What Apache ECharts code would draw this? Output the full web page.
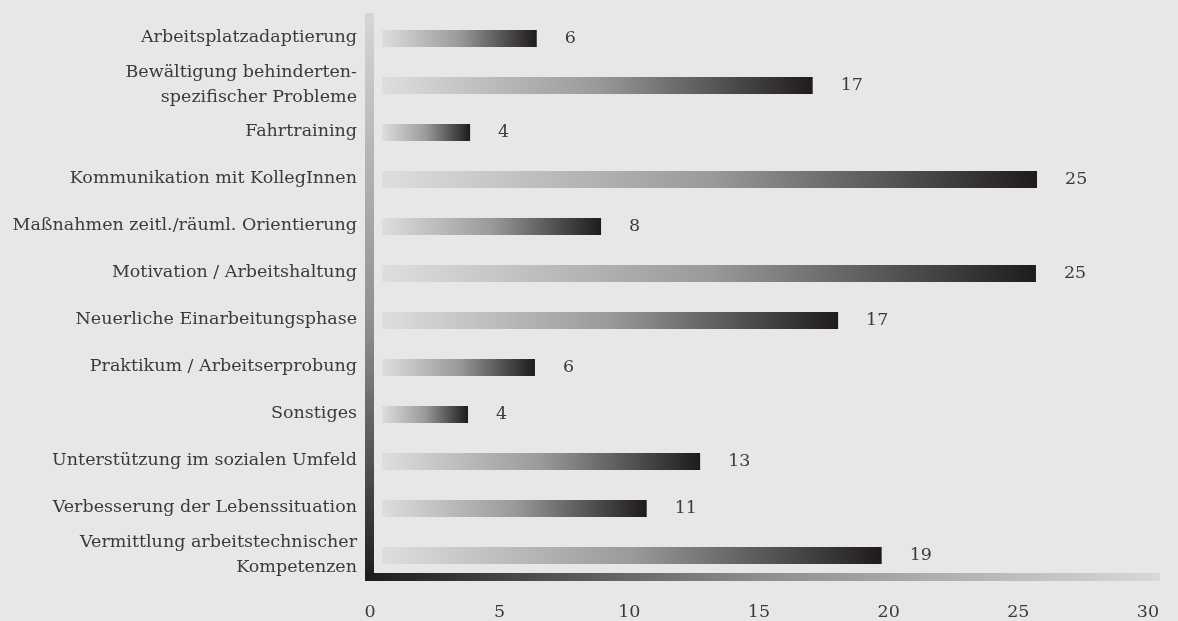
<!DOCTYPE html>
<html>
<head>
<meta charset="utf-8">
<script src="https://cdn.jsdelivr.net/npm/echarts@6/dist/echarts.min.js"></script>
<style>
  html, body { margin: 0; padding: 0; background: #e7e7e8; }
  #chart { width: 1178px; height: 621px; }
</style>
</head>
<body>
<div id="chart"></div>
<script>
const categories = [
  'Arbeitsplatzadaptierung',
  'Bewältigung behinderten-\nspezifischer Probleme',
  'Fahrtraining',
  'Kommunikation mit KollegInnen',
  'Maßnahmen zeitl./räuml. Orientierung',
  'Motivation / Arbeitshaltung',
  'Neuerliche Einarbeitungsphase',
  'Praktikum / Arbeitserprobung',
  'Sonstiges',
  'Unterstützung im sozialen Umfeld',
  'Verbesserung der Lebenssituation',
  'Vermittlung arbeitstechnischer\nKompetenzen'
]
// bar lengths as read against the value axis
const barValues = [6.43, 17.07, 3.86, 25.72, 8.91, 25.68, 18.05, 6.36, 3.78, 12.73, 10.67, 19.73]
// numbers printed next to the bars
const barLabels = ['6', '17', '4', '25', '8', '25', '17', '6', '4', '13', '11', '19']
const xTicks = [0, 5, 10, 15, 20, 25, 30]

const FONT = '"DejaVu Serif", "Liberation Serif", serif'
const TEXT = '#3a3a3a'

const chart = echarts.init(document.getElementById('chart'))

const barFill = () => new echarts.graphic.LinearGradient(0, 0, 1, 0, [
  { offset: 0, color: '#dedede' },
  { offset: 0.5, color: '#9a9a9c' },
  { offset: 1, color: '#1f1b1c' }
])

chart.setOption({
  backgroundColor: '#e7e7e8',
  animation: false,
  grid: { left: 370, right: 30, top: 14, bottom: 43 },
  xAxis: {
    type: 'value',
    min: xTicks[0],
    max: xTicks[xTicks.length - 1],
    interval: 5,
    splitLine: { show: false },
    axisLine: { show: false },
    axisTick: { show: false },
    axisLabel: { margin: 25, fontFamily: FONT, fontSize: 17.5, color: TEXT }
  },
  yAxis: {
    type: 'category',
    inverse: true,
    data: categories,
    axisLine: { show: false },
    axisTick: { show: false },
    axisLabel: {
      margin: 13,
      fontFamily: FONT,
      fontSize: 17.5,
      lineHeight: 25,
      padding: [8, 0, 0, 0],
      color: TEXT,
      align: 'right'
    }
  },
  series: [
    {
      type: 'custom',
      encode: { x: 0, y: 1 },
      data: barValues.map((v, i) => [v, i]),
      renderItem: (params, api) => {
        const idx = api.value(1)
        const start = api.coord([0, idx])
        const end = api.coord([api.value(0), idx])
        const h = 17
        const x0 = start[0] + 12
        return {
          type: 'group',
          children: [
            {
              type: 'rect',
              shape: { x: x0, y: end[1] - h / 2 + 1, width: end[0] - x0, height: h },
              style: { fill: barFill() }
            },
            {
              type: 'text',
              style: {
                text: barLabels[idx],
                x: end[0] + 28,
                y: end[1] + 1,
                verticalAlign: 'middle',
                fontFamily: FONT,
                fontSize: 17.5,
                fill: TEXT
              }
            }
          ]
        }
      }
    }
  ]
})

// thick gradient axis bars
const p0 = chart.convertToPixel({ xAxisIndex: 0 }, 0)
const p30 = chart.convertToPixel({ xAxisIndex: 0 }, 30)
const gridTop = 14
const gridBottom = 621 - 43
chart.setOption({
  graphic: [
    {
      type: 'rect',
      shape: { x: p0 - 5, y: gridTop - 1, width: 9, height: gridBottom - gridTop + 4 },
      style: {
        fill: new echarts.graphic.LinearGradient(0, 0, 0, 1, [
          { offset: 0, color: '#d6d6d7' },
          { offset: 0.55, color: '#8e8e90' },
          { offset: 1, color: '#1f1b1c' }
        ])
      }
    },
    {
      type: 'rect',
      shape: { x: p0 - 5, y: gridBottom - 5, width: p30 + 12 - (p0 - 5), height: 8 },
      style: {
        fill: new echarts.graphic.LinearGradient(0, 0, 1, 0, [
          { offset: 0, color: '#1f1b1c' },
          { offset: 0.5, color: '#8e8e90' },
          { offset: 1, color: '#d8d8d9' }
        ])
      }
    }
  ]
})
</script>
</body>
</html>
